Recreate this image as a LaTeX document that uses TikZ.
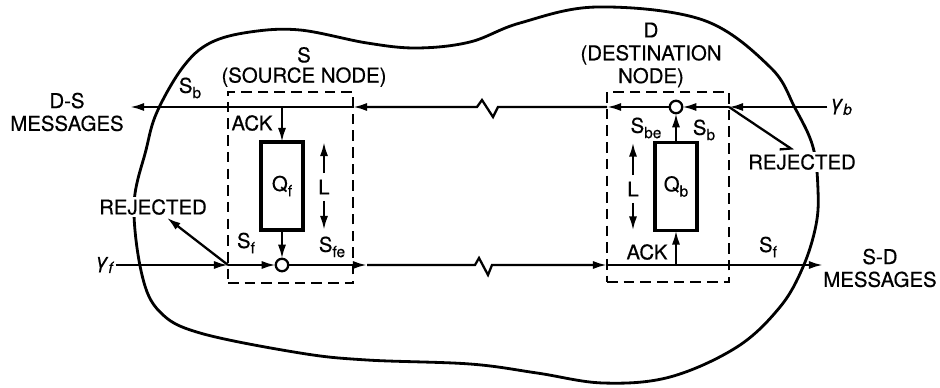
\documentclass[tikz,border=0pt]{standalone}
\usepackage{fontspec}
\setmainfont{TeX Gyre Heros}[FakeBold=0.5]
\usetikzlibrary{arrows.meta}
\newcommand\subl[1]{\raisebox{-3pt}{\fontsize{8.8}{9}\selectfont #1}}

\begin{document}
\begin{tikzpicture}[
  x=0.02cm, y=-0.02cm,
  font=\fontsize{11.6}{13}\selectfont,
  line width=1.3pt,
  tip/.style={-{Latex[length=8pt,width=4.6pt]}},
  dashbox/.style={draw, dash pattern=on 6pt off 3.5pt, line width=1pt, inner sep=0pt, outer sep=0pt},
  qbox/.style={draw, line width=1.8pt, inner sep=0pt, outer sep=0pt, minimum width=0.84cm, minimum height=1.76cm},
  jn/.style={circle, draw, fill=white, inner sep=0pt, outer sep=0pt, minimum size=0.25cm},
  lbl/.style={inner sep=1pt, align=center},
  rej/.style={fill=white, inner sep=1pt}
]
  \useasboundingbox (0,0) rectangle (940,388);

  % network boundary
  \draw[line width=1.6pt] plot[smooth cycle, tension=0.6] coordinates {
    (134,205) (146,150) (157,112) (183,67) (210,43) (250,32) (300,30) (367,43)
    (417,48) (470,42) (520,23) (597,7) (703,20) (770,67) (795,108) (813,147)
    (818,190) (816,225) (803,267) (780,307) (737,347) (670,377) (603,383)
    (537,373) (470,364) (367,360) (300,353) (200,333) (160,312) (142,275)};

  % source and destination nodes
  \node[dashbox, minimum width=2.5cm, minimum height=3.82cm] (S) at (290.5,187.5) {};
  \node[dashbox, minimum width=2.44cm, minimum height=3.8cm] (D) at (668,187) {};
  \node[lbl] (Sname) at (304,67) {S\\[-1.5pt](SOURCE NODE)};
  \node[lbl] (Dname) at (651,55) {D\\(DESTINATION\\NODE)};

  \node[qbox] (Qf) at (282,186) {Q\subl{f}};
  \node[qbox] (Qb) at (676,186.5) {Q\subl{b}};
  \node[jn] (cf) at (282,265) {};
  \node[jn] (cb) at (676,107) {};

  \node[lbl] (gf) at (104,265) {\itshape γ\subl{f}};
  \node[lbl] (gb) at (841,107) {\itshape γ\subl{b}};
  \coordinate (dsout) at (130,107);
  \coordinate (sdout) at (823,265);
  \coordinate (sfo) at (367,265);

  % D-S messages (top)
  \draw[tip] (gb.west) -- (D.east |- cb);
  \draw[tip] (D.east |- cb) -- (cb);
  \draw[tip] (cb) -- (D.west |- cb);
  \draw[tip] (D.west |- cb) -- (498,107) -- (493,117) -- (482,100) -- (477,107) -- (S.east |- cb);
  \draw[tip] (S.east |- cb) -- (dsout);

  % S-D messages (bottom)
  \draw[tip] (gf.east) -- (S.west |- cf);
  \draw[tip] (S.west |- cf) -- (cf);
  \draw[tip] (cf) -- (sfo);
  \draw[tip] (sfo) -- (475,265) -- (479,258) -- (488,275) -- (492,265) -- (D.west |- cf);
  \draw[tip] (D.west |- cf) -- (sdout);

  % queues
  \draw[tip] (Qf.north |- cb) -- (Qf.north);
  \draw[tip] (Qf.south) -- (cf.north);
  \draw[tip] (Qb.south |- cf) -- (Qb.south);
  \draw[tip] (Qb.north) -- (cb.south);

  \node[lbl] (Lf) at (324,187) {L};
  \draw[tip, shorten <=2pt] (Lf.north) -- (Lf.north |- Qf.north);
  \draw[tip, shorten <=2pt] (Lf.south) -- (Lf.south |- Qf.south);
  \node[lbl] (Lb) at (633,189) {L};
  \draw[tip, shorten <=2pt] (Lb.north) -- (Lb.north |- Qb.north);
  \draw[tip, shorten <=2pt] (Lb.south) -- (Lb.south |- Qb.south);

  % rejected traffic
  \node[rej] (rejf) at (153,207) {REJECTED};
  \node[rej] (rejb) at (802,162) {REJECTED};
  \draw[tip] (S.west |- cf) -- (rejf);
  \draw[-{Straight Barb[harpoon, swap, length=5pt, width=8pt]}, shorten >=1pt] (D.east |- cb) -- ([xshift=-4pt]rejb.north);

  % labels
  \node[lbl] (dsmsg) at (67,112) {D-S\\MESSAGES};
  \node[lbl] (sdmsg) at (880,268) {S-D\\MESSAGES};
  \node[lbl] (ackf) at (252,123) {ACK};
  \node[lbl] (ackb) at (647,252) {ACK};
  \node[lbl] (sbo) at (190,88) {S\subl{b}};
  \node[lbl] (sfi) at (246,243) {S\subl{f}};
  \node[lbl] (sfe) at (332,247) {S\subl{fe}};
  \node[lbl] (sbe) at (646,128) {S\subl{be}};
  \node[lbl] (sbi) at (704,130) {S\subl{b}};
  \node[lbl] (sfd) at (768,247) {S\subl{f}};
\end{tikzpicture}
\end{document}
